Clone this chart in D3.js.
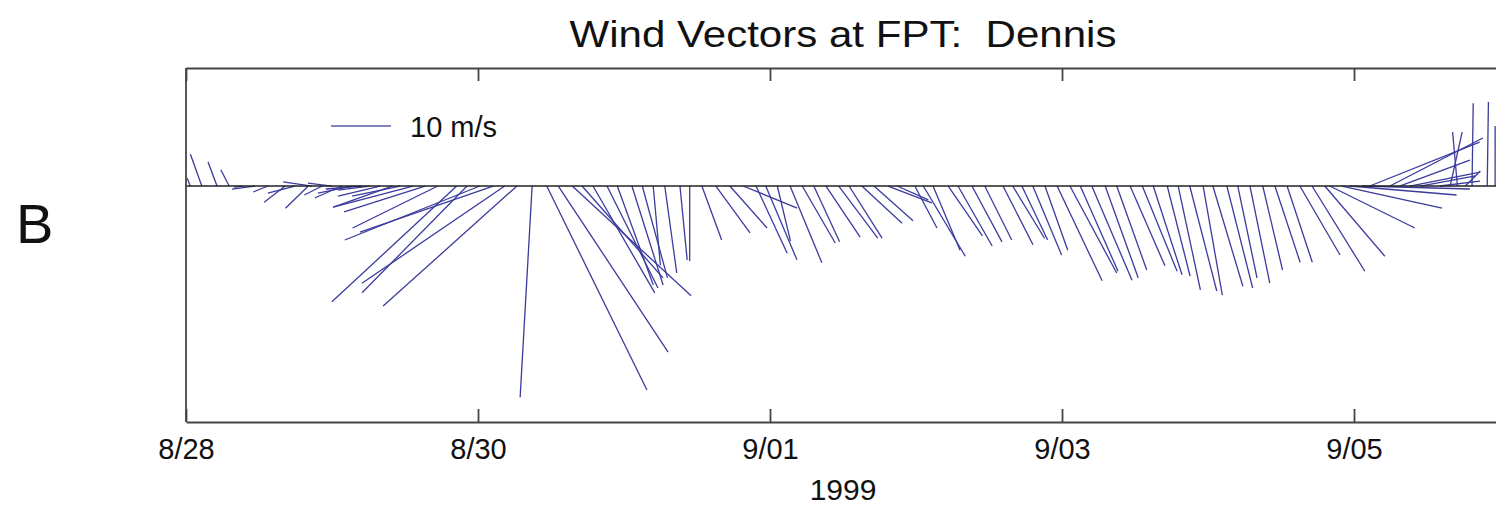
<!DOCTYPE html>
<html>
<head>
<meta charset="utf-8">
<script src="https://cdn.jsdelivr.net/npm/d3@7"></script>
<style>
  body { margin: 0; background: #ffffff; }
  svg text { font-family: 'Liberation Sans', Arial, sans-serif; fill: #111111; }
</style>
</head>
<body>
<svg id="chart" width="1496" height="505"></svg>
<script>
// hours after 8/28/1999 00:00 for each wind stick
const hours = [
  0.7, 2.6, 5.1, 7.1, 9.4, 11.3, 13.5, 16.3, 17.9, 20.1, 20.7, 22.4, 24.0, 25.6, 27.3, 28.9,
  30.2, 31.9, 33.9, 35.2, 37.3, 39.3, 41.4, 44.5, 46.2, 48.3, 50.5, 52.4, 54.4, 56.9,
  59.3, 61.2, 63.5, 65.1, 66.9, 69.2, 70.9, 73.3, 75.0, 76.8, 78.7, 81.2, 82.8,
  84.8, 87.1, 89.4, 91.6, 93.7, 95.3, 97.2, 99.3, 101.3, 103.2, 105.2, 107.3, 109.0,
  111.1, 113.1, 115.4, 116.9, 119.8, 121.2, 122.8, 125.3, 126.9, 129.2, 131.3,
  134.3, 135.9, 137.4, 139.2, 141.2, 143.2, 145.3, 147.0, 148.9, 151.1, 153.0,
  155.2, 157.2, 159.0, 161.3, 163.1, 165.0, 167.2, 168.8, 171.1, 172.9,
  174.9, 177.0, 179.0, 181.0, 183.1, 185.1, 187.2, 188.0, 190.0, 191.3, 193.3,
  194.6, 197.9, 199.5, 201.2, 202.9, 206.1, 207.8, 209.0, 210.3, 211.4, 213.9, 215.2
];

// east component (m/s)
const uWind = [
  -0.5, -1.9, -1.5, -1.4, -1.5, -3.8, -2.5, -3.5, -4.5, -3.8, -4.8, -3.0, -4.0, -4.5, -5.7, -6.0,
  -5.3, -7.0, -9.8, -8.0, -13.3, -13.5, -14.2, -20.8, -17.5, -22.5, -22.2, -23.8, -22.3, -2.0,
  16.7, 18.3, 19.8, 13.5, 10.3, 8.5, 6.0, 5.2, 4.2, 1.2, 2.0, 1.2, 0.0,
  3.3, 5.7, 6.2, 9.0, 5.2, 5.2, 2.2, 5.3, 5.5, 4.3, 5.7, 6.5, 5.5,
  6.7, 6.5, 7.3, 5.2, 3.7, 7.0, 4.5, 5.7, 5.7, 5.0, 4.5,
  5.0, 5.3, 4.3, 4.8, 3.8, 7.5, 7.8, 6.3, 6.7, 5.5, 5.0,
  5.8, 5.8, 4.8, 3.8, 3.7, 4.5, 3.2, 5.0, 4.3, 3.2,
  3.3, 3.3, 4.2, 4.2, 6.7, 8.8, 10.0, 14.2, 16.7, 17.8, 18.0,
  18.3, 15.5, 11.7, 11.7, 9.2, 6.7, 2.0, -0.8, 2.5, 0.2, 0.2, 0.0
];

// north component (m/s)
const vWind = [
  1.3, 5.3, 4.0, 2.7, -0.2, -0.5, -1.0, -2.7, -1.2, -3.7, 0.7, -1.5, 0.5, -2.0, -1.2, -0.5,
  -0.7, -1.7, -3.5, -1.7, -3.5, -4.3, -7.0, -19.3, -17.8, -9.0, -7.7, -16.2, -20.0, -35.2,
  -34.0, -27.7, -18.3, -15.3, -17.8, -17.0, -16.5, -16.5, -15.3, -13.2, -14.5, -12.3, -12.5,
  -9.0, -7.8, -7.0, -3.7, -11.2, -12.3, -9.2, -12.8, -9.5, -9.3, -8.5, -8.7, -8.7,
  -6.2, -5.8, -2.8, -2.3, -7.0, -11.7, -10.7, -8.3, -10.0, -9.3, -9.0,
  -9.8, -8.7, -9.0, -11.5, -10.7, -15.8, -14.5, -14.2, -15.7, -15.3, -14.0,
  -13.3, -14.2, -14.8, -15.0, -17.3, -17.5, -18.2, -16.7, -17.0, -15.3,
  -16.2, -14.0, -12.7, -12.7, -11.5, -14.2, -11.7, -7.0, -3.7, -1.5, -0.5,
  7.3, 8.0, 4.3, 2.3, 1.7, 0.8, 9.0, 9.0, 2.5, 13.8, 14.0, 10.0
];

const tickDates = ['8/28', '8/30', '9/01', '9/03', '9/05'];
const legendSpeed = 10;

const MARGIN = { left: 186, right: 1500, top: 68, bottom: 422 };
const STICK_COLOR = '#3b3b9e';

const svg = d3.select('#chart');
const start = new Date(1999, 7, 28);

const x = d3.scaleTime()
  .domain([start, new Date(1999, 8, 6)])
  .range([MARGIN.left, MARGIN.right]);

const y = d3.scaleLinear()
  .domain([-39.33, 19.67])
  .range([MARGIN.bottom, MARGIN.top]);

// same pixels per m/s on both directions
const k = y(0) - y(1);

const sticks = hours.map((h, i) => ({ t: d3.timeMinute.offset(start, Math.round(h * 60)), u: uWind[i], v: vWind[i] }));

// clip so sticks don't spill outside the box
svg.append('clipPath')
  .attr('id', 'plot-clip')
  .append('rect')
  .attr('x', MARGIN.left)
  .attr('y', MARGIN.top)
  .attr('width', MARGIN.right - MARGIN.left)
  .attr('height', MARGIN.bottom - MARGIN.top);

svg.append('g')
  .attr('class', 'sticks')
  .attr('clip-path', 'url(#plot-clip)')
  .selectAll('line')
  .data(sticks)
  .enter()
  .append('line')
  .attr('x1', d => x(d.t))
  .attr('y1', y(0))
  .attr('x2', d => x(d.t) + d.u * k)
  .attr('y2', d => y(d.v))
  .attr('stroke', STICK_COLOR)
  .attr('stroke-width', 1.3);

// zero line
svg.append('line')
  .attr('x1', MARGIN.left)
  .attr('x2', MARGIN.right)
  .attr('y1', y(0))
  .attr('y2', y(0))
  .attr('stroke', '#222222')
  .attr('stroke-width', 1.5);

const tickValues = tickDates.map(s => {
  const p = s.split('/');
  return new Date(1999, +p[0] - 1, +p[1]);
});

const axisX = d3.axisBottom(x)
  .tickValues(tickValues)
  .tickFormat(d3.timeFormat('%-m/%d'))
  .tickSizeInner(-13)
  .tickSizeOuter(0)
  .tickPadding(16);

const axisTop = d3.axisTop(x)
  .tickValues(tickValues)
  .tickFormat('')
  .tickSizeInner(-13)
  .tickSizeOuter(0);

const gx = svg.append('g')
  .attr('class', 'axis axis-x')
  .attr('transform', 'translate(0,' + MARGIN.bottom + ')')
  .call(axisX);

const gt = svg.append('g')
  .attr('class', 'axis axis-top')
  .attr('transform', 'translate(0,' + MARGIN.top + ')')
  .call(axisTop);

[gx, gt].forEach(g => {
  g.selectAll('path, line')
    .attr('stroke', '#444444')
    .attr('stroke-width', 1.8);
  g.selectAll('text')
    .attr('font-size', 29)
    .attr('fill', '#111111')
    .style('font-family', "'Liberation Sans', Arial, sans-serif");
});

svg.append('line')
  .attr('x1', MARGIN.left)
  .attr('x2', MARGIN.left)
  .attr('y1', MARGIN.top)
  .attr('y2', MARGIN.bottom)
  .attr('stroke', '#444444')
  .attr('stroke-width', 1.8);

// legend
svg.append('line')
  .attr('x1', 331)
  .attr('x2', 331 + legendSpeed * k)
  .attr('y1', 126)
  .attr('y2', 126)
  .attr('stroke', '#5a5aa6')
  .attr('stroke-width', 1.5);

svg.append('text')
  .attr('x', 410)
  .attr('y', 137)
  .attr('font-size', 29)
  .text(legendSpeed + ' m/s');

// titles
svg.append('text')
  .attr('x', (MARGIN.left + MARGIN.right) / 2)
  .attr('y', 47)
  .attr('text-anchor', 'middle')
  .attr('font-size', 36)
  .attr('textLength', 547)
  .attr('lengthAdjust', 'spacingAndGlyphs')
  .style('white-space', 'pre')
  .text('Wind Vectors at FPT:  Dennis');

svg.append('text')
  .attr('x', (MARGIN.left + MARGIN.right) / 2)
  .attr('y', 500)
  .attr('text-anchor', 'middle')
  .attr('font-size', 30)
  .text('1999');

svg.append('text')
  .attr('x', 16)
  .attr('y', 243)
  .attr('font-size', 56)
  .text('B');
</script>
</body>
</html>
